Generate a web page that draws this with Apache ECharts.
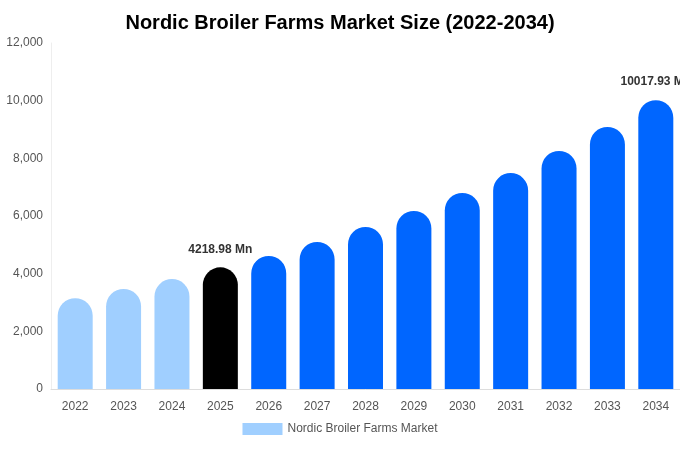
<!DOCTYPE html>
<html><head><meta charset="utf-8">
<script src="https://cdn.jsdelivr.net/npm/echarts@6/dist/echarts.min.js"></script>
<style>html,body{margin:0;padding:0;background:#fff}#c{width:680px;height:450px}</style>
</head><body><div id="c"></div>
<script>
const years = ['2022','2023','2024','2025','2026','2027','2028','2029','2030','2031','2032','2033','2034'];
const values = [3150,3470,3815,4218.98,4613,5100,5620,6175,6800,7490,8255,9090,10017.93];
const labelled = {'2025':'4218.98 Mn','2034':'10017.93 Mn'};
const colorFor = y => (+y < 2025 ? '#a0cfff' : (+y === 2025 ? '#000000' : '#0066ff'));
const chart = echarts.init(document.getElementById('c'));
chart.setOption({
  animation:false,
  title:{text:'Nordic Broiler Farms Market Size (2022-2034)',left:'center',top:8,textStyle:{fontFamily:'Liberation Sans',fontSize:20,fontWeight:'bold',color:'#000'}},
  grid:{left:51,right:0,top:43,bottom:61},
  legend:{bottom:10,itemWidth:40,itemHeight:12,icon:'rect',textStyle:{fontFamily:'Liberation Sans',color:'#555',fontSize:12},data:[{name:'Nordic Broiler Farms Market',itemStyle:{color:'#a0cfff'}}]},
  xAxis:{type:'category',data:years,axisTick:{show:false},axisLine:{lineStyle:{color:'#ddd'}},axisLabel:{color:'#555',fontFamily:'Liberation Sans',fontSize:12,margin:12}},
  yAxis:{type:'value',min:0,max:12000,interval:2000,axisLine:{show:true,lineStyle:{color:'#eee'}},splitLine:{show:false},axisLabel:{color:'#555',fontFamily:'Liberation Sans',fontSize:12,formatter:v=>v.toLocaleString('en-US')}},
  series:[{name:'Nordic Broiler Farms Market',type:'bar',barWidth:35,
    data:values.map((v,i)=>({value:v,itemStyle:{color:colorFor(years[i]),borderRadius:[18,18,0,0]},
      label:{show:!!labelled[years[i]],position:'top',distance:12,formatter:labelled[years[i]]||'',fontWeight:'bold',fontSize:12,color:'#333',fontFamily:'Liberation Sans'}}))}]
});
</script></body></html>
